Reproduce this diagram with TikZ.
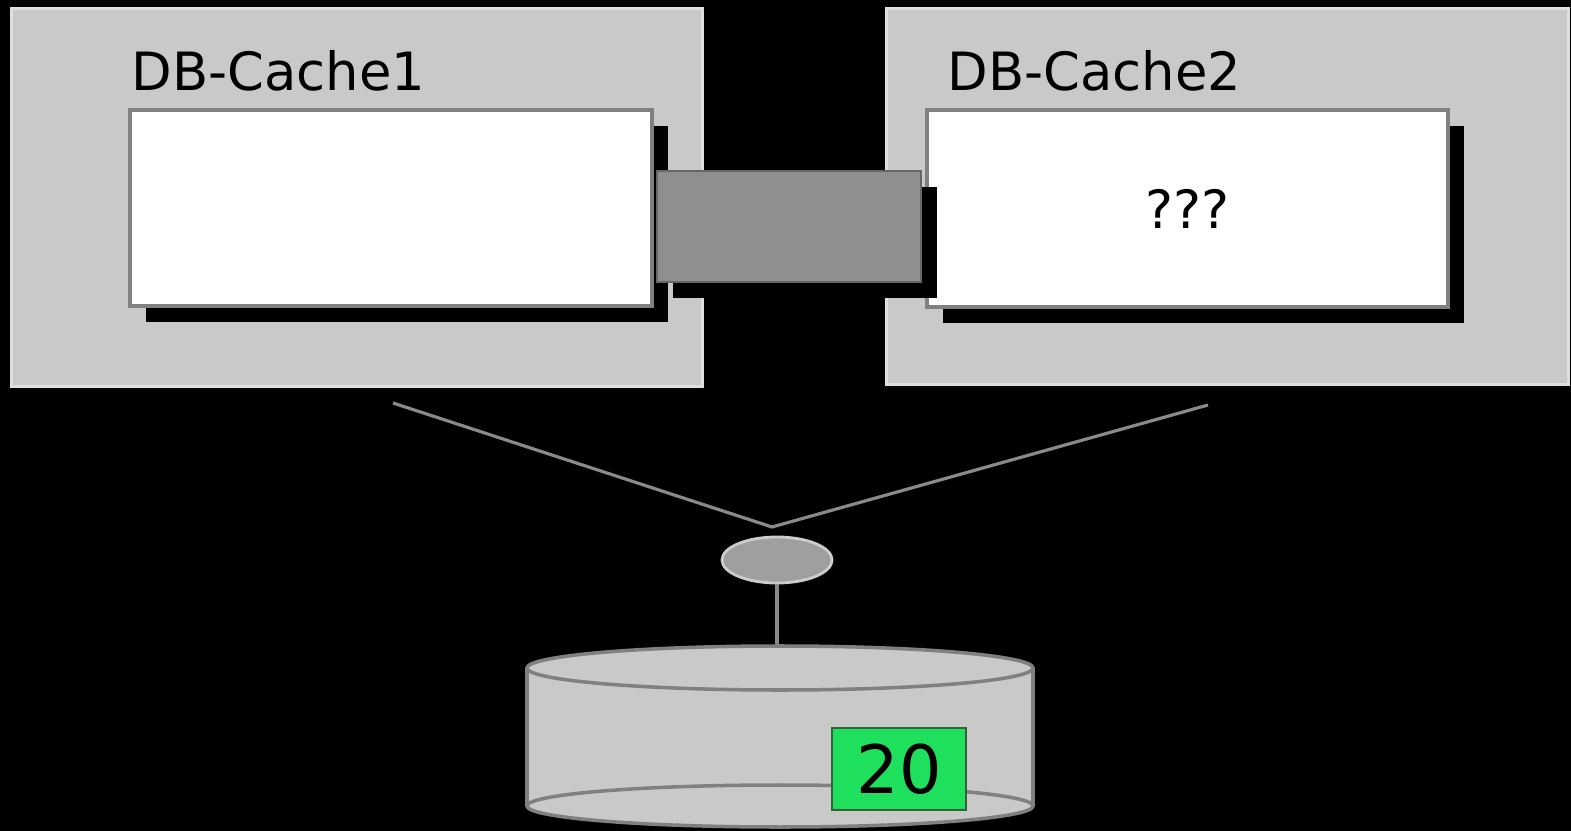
\documentclass[tikz,border=0pt]{standalone}
\usepackage{fontspec}
\setmainfont{DejaVu Sans}
\usepackage{tikz}
\usetikzlibrary{shapes.geometric,shadows}

\definecolor{boxgray}{HTML}{C9C9C9}
\definecolor{bridgegray}{HTML}{8F8F8F}
\definecolor{linkgray}{HTML}{8A8A8A}
\definecolor{countgreen}{HTML}{1FE05C}

\begin{document}
\begin{tikzpicture}[x=0.01cm, y=-0.01cm,
	cachebox/.style={fill=boxgray, draw=white!75!gray, line width=0.8pt},
	memory/.style={fill=white, draw=gray, line width=1pt, drop shadow={shadow xshift=0.16cm, shadow yshift=-0.16cm, fill=black, opacity=1}},
	link/.style={draw=linkgray, line width=0.9pt}]
	\fill[black] (0,0) rectangle (1571,831);
	\useasboundingbox (0,0) rectangle (1571,831);
	% the two caches
	\node[cachebox, minimum width=6.9cm, minimum height=3.77cm] (cache1) at (357,197.5) {};
	\node[cachebox, minimum width=6.81cm, minimum height=3.75cm] (cache2) at (1227.5,196.5) {};
	\node[anchor=base west, inner sep=0pt, font=\fontsize{15}{18}\selectfont] (name1) at (131,91) {DB-Cache1};
	\node[anchor=base west, inner sep=0pt, font=\fontsize{15}{18}\selectfont] (name2) at (947,91) {DB-Cache2};
	\node[memory, minimum width=5.22cm, minimum height=1.96cm] (mem1) at (391,208) {};
	\node[memory, minimum width=5.21cm, minimum height=1.97cm, font=\fontsize{15}{18}\selectfont] (mem2) at (1187.5,208.5) {???};
	\node[fill=bridgegray, draw=gray!80!black, line width=0.6pt, minimum width=2.64cm, minimum height=1.11cm, drop shadow={shadow xshift=0.16cm, shadow yshift=-0.16cm, fill=black, opacity=1}] (bridge) at (789,226.5) {};
	% lines down to the database
	\coordinate (foot1) at (393,403);
	\coordinate (foot2) at (1208,405);
	\coordinate (hub) at (772,527);
	\draw[link] (foot1) -- (hub) -- (foot2);
	\node[ellipse, fill=gray!75, draw=gray!40, line width=0.8pt, minimum width=1.1cm, minimum height=0.46cm, inner sep=0pt] (port) at (777,560) {};
	\coordinate (dbtop) at (777,646);
	\draw[link] (port) -- (dbtop);
	% database
	\fill[boxgray] (527,668) rectangle (1033,806);
	\filldraw[fill=boxgray, draw=gray, line width=1pt] (780,806) ellipse (253 and 21);
	\draw[gray, line width=1pt] (527,668) -- (527,806) (1033,668) -- (1033,806);
	\filldraw[fill=boxgray, draw=gray, line width=1pt] (780,668) ellipse (253 and 22);
	\node[fill=countgreen, draw=gray!70!green!60!black, line width=0.8pt, minimum width=1.34cm, minimum height=0.82cm, font=\fontsize{19}{22}\selectfont] (count) at (899,769) {20};
\end{tikzpicture}
\end{document}
